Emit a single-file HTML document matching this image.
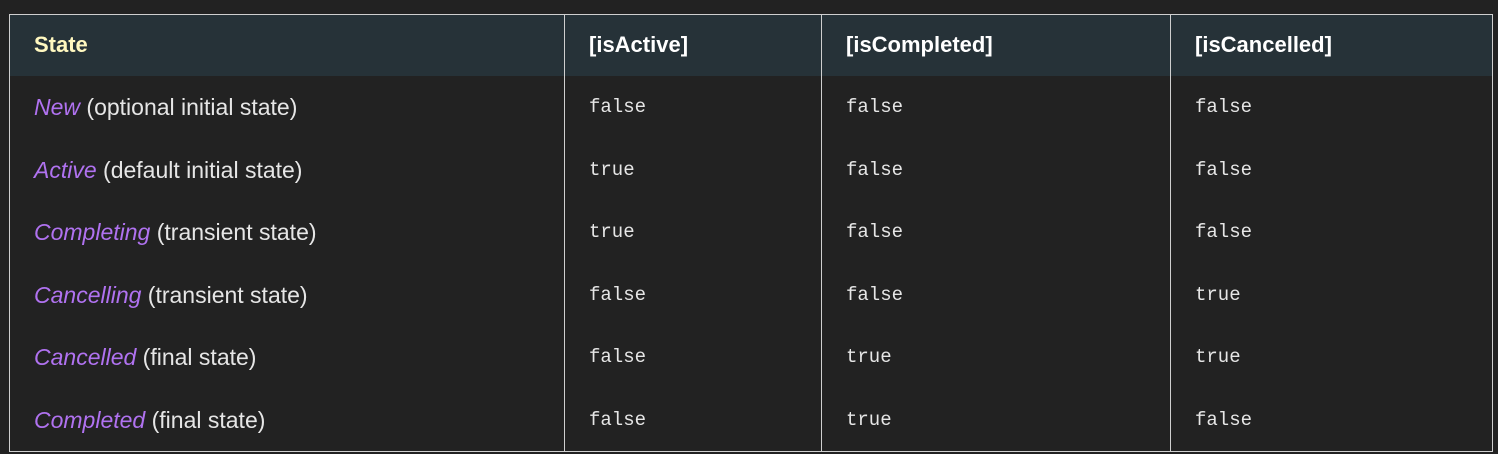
<!DOCTYPE html>
<html><head><style>
html,body{margin:0;padding:0;background:#222222;width:1498px;height:454px;overflow:hidden}
.t{position:absolute;left:9px;top:14px;width:1482px;height:436px;border:1px solid #cfcfcf;box-sizing:content-box}
.hdr{position:absolute;left:0;top:0;width:1482px;height:61px;background:#263238}
.v{position:absolute;top:0;width:1px;height:436px;background:#cfcfcf}
.c{position:absolute;white-space:nowrap;color:#e6e6e6;font-family:"Liberation Sans",sans-serif;font-size:23px;line-height:30px}
.h{font-weight:bold;color:#fff;font-size:22px}
.m{font-family:"Liberation Mono",monospace;font-size:19px}
i{color:#b072f0}
</style></head><body>
<div class="t">
<div class="hdr"></div>
<div class="v" style="left:554px"></div>
<div class="v" style="left:811px"></div>
<div class="v" style="left:1160px"></div>
</div>
<div class="c h" style="left:34px;top:30px;color:#fff8c0">State</div>
<div class="c h" style="left:589px;top:30px">[isActive]</div>
<div class="c h" style="left:846px;top:30px">[isCompleted]</div>
<div class="c h" style="left:1195px;top:30px">[isCancelled]</div>

<div class="c" style="left:34px;top:92px"><i>New</i> (optional initial state)</div>
<div class="c m" style="left:589px;top:92px">false</div>
<div class="c m" style="left:846px;top:92px">false</div>
<div class="c m" style="left:1195px;top:92px">false</div>

<div class="c" style="left:34px;top:155px"><i>Active</i> (default initial state)</div>
<div class="c m" style="left:589px;top:155px">true</div>
<div class="c m" style="left:846px;top:155px">false</div>
<div class="c m" style="left:1195px;top:155px">false</div>

<div class="c" style="left:34px;top:217px"><i>Completing</i> (transient state)</div>
<div class="c m" style="left:589px;top:217px">true</div>
<div class="c m" style="left:846px;top:217px">false</div>
<div class="c m" style="left:1195px;top:217px">false</div>

<div class="c" style="left:34px;top:280px"><i>Cancelling</i> (transient state)</div>
<div class="c m" style="left:589px;top:280px">false</div>
<div class="c m" style="left:846px;top:280px">false</div>
<div class="c m" style="left:1195px;top:280px">true</div>

<div class="c" style="left:34px;top:342px"><i>Cancelled</i> (final state)</div>
<div class="c m" style="left:589px;top:342px">false</div>
<div class="c m" style="left:846px;top:342px">true</div>
<div class="c m" style="left:1195px;top:342px">true</div>

<div class="c" style="left:34px;top:405px"><i>Completed</i> (final state)</div>
<div class="c m" style="left:589px;top:405px">false</div>
<div class="c m" style="left:846px;top:405px">true</div>
<div class="c m" style="left:1195px;top:405px">false</div>
</body></html>
